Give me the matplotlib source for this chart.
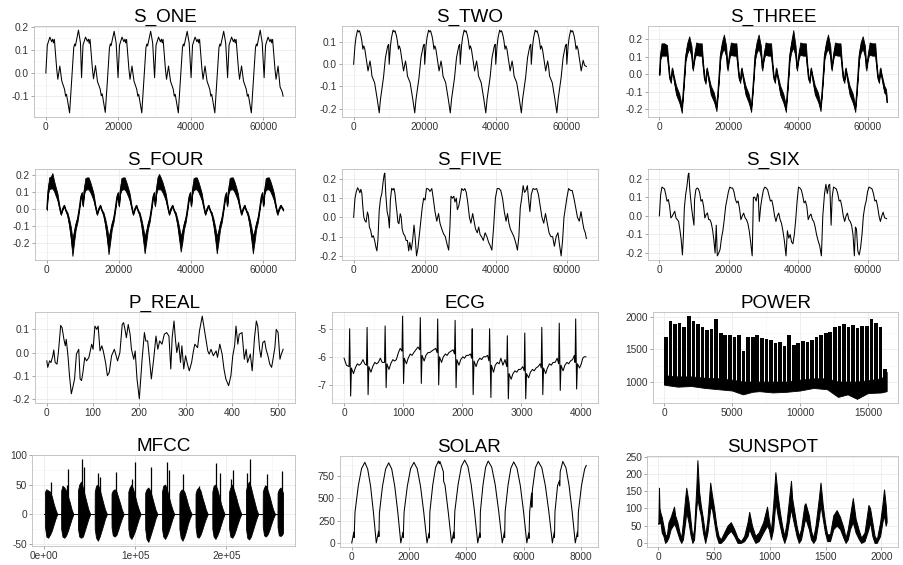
import numpy as np
import matplotlib
matplotlib.use("Agg")
import matplotlib.pyplot as plt
from matplotlib.ticker import MultipleLocator, AutoMinorLocator, FuncFormatter

plt.rcParams['font.family'] = ['Liberation Sans', 'DejaVu Sans']
plt.rcParams['axes.unicode_minus'] = False

## data (x of the S_ series in thousands of samples)

s_one = [
    (0, 0.0), (0.4, 0.12), (1.1, 0.155), (1.6, 0.135), (1.9, 0.146), (2.1, 0.13), (2.35, 0.145), (3.0, 0.016), (3.3, -0.027), (3.85, 0.03), (4.4, -0.035), (5.15, -0.07), (5.45, -0.1), (5.7, -0.092), (6.55, -0.172), (7.1, -0.04), (7.7, 0.11), (7.95, 0.125), (8.15, 0.117), (9.0, 0.185), (9.55, 0.13),
    (9.85, -0.02), (10.25, 0.12), (10.95, 0.155), (11.45, 0.137), (11.75, 0.146), (11.95, 0.128), (12.2, 0.145), (12.85, 0.018), (13.15, -0.025), (13.7, 0.032), (14.25, -0.037), (15.0, -0.07), (15.3, -0.098), (15.55, -0.09), (16.4, -0.17), (16.95, -0.042), (17.55, 0.108), (17.8, 0.126), (18.0, 0.118), (18.85, 0.18), (19.4, 0.13),
    (19.93, -0.02), (20.33, 0.12), (21.03, 0.155), (21.53, 0.135), (21.83, 0.146), (22.03, 0.13), (22.28, 0.145), (22.93, 0.016), (23.23, -0.027), (23.78, 0.03), (24.33, -0.035), (25.08, -0.07), (25.38, -0.1), (25.63, -0.092), (26.48, -0.172), (27.03, -0.04), (27.63, 0.11), (27.88, 0.125), (28.08, 0.117), (28.93, 0.18), (29.48, 0.13),
    (30.01, -0.02), (30.41, 0.12), (31.11, 0.155), (31.61, 0.135), (31.91, 0.146), (32.11, 0.13), (32.36, 0.145), (33.01, 0.016), (33.31, -0.027), (33.86, 0.03), (34.41, -0.035), (35.16, -0.07), (35.46, -0.1), (35.71, -0.092), (36.56, -0.172), (37.11, -0.04), (37.71, 0.11), (37.96, 0.125), (38.16, 0.117), (39.01, 0.18), (39.56, 0.13),
    (40.09, -0.02), (40.49, 0.12), (41.19, 0.155), (41.69, 0.135), (41.99, 0.146), (42.19, 0.13), (42.44, 0.145), (43.09, 0.016), (43.39, -0.027), (43.94, 0.03), (44.49, -0.035), (45.24, -0.07), (45.54, -0.1), (45.79, -0.092), (46.64, -0.172), (47.19, -0.04), (47.79, 0.11), (48.04, 0.125), (48.24, 0.117), (49.09, 0.18), (49.64, 0.13),
    (50.17, -0.02), (50.57, 0.12), (51.27, 0.155), (51.77, 0.135), (52.07, 0.146), (52.27, 0.13), (52.52, 0.145), (53.17, 0.016), (53.47, -0.027), (54.02, 0.03), (54.57, -0.035), (55.32, -0.07), (55.62, -0.1), (55.87, -0.092), (56.72, -0.172), (57.27, -0.04), (57.87, 0.11), (58.12, 0.125), (58.32, 0.117), (59.17, 0.185), (59.72, 0.13),
    (60.25, -0.02), (60.65, 0.12), (61.35, 0.155), (61.85, 0.135), (62.15, 0.146), (62.35, 0.13), (62.6, 0.145), (63.25, 0.016), (63.55, -0.027), (64.1, 0.03), (64.65, -0.06), (65.2, -0.08), (65.5, -0.1),
]

s_two = [
    (0, 0.0), (0.37, 0.083), (0.65, 0.12), (1.1, 0.154), (1.4, 0.146), (1.65, 0.151), (2.05, 0.128), (2.3, 0.106), (2.6, 0.068), (2.85, 0.083), (3.15, 0.068), (4.05, -0.03), (4.6, 0.015), (4.9, -0.015), (5.15, -0.053), (5.9, -0.083), (6.65, -0.158), (7.2, -0.219), (7.55, -0.158), (8.4, -0.06), (8.95, 0.03), (9.6, 0.083), (9.85, 0.09),
    (10.0, 0.0), (10.37, 0.083), (10.65, 0.12), (11.1, 0.154), (11.4, 0.146), (11.65, 0.151), (12.05, 0.128), (12.3, 0.106), (12.6, 0.068), (12.85, 0.083), (13.15, 0.068), (14.05, -0.03), (14.6, 0.015), (14.9, -0.015), (15.15, -0.053), (15.9, -0.083), (16.65, -0.158), (17.2, -0.219), (17.55, -0.158), (18.4, -0.06), (18.95, 0.03), (19.6, 0.083), (19.85, 0.09),
    (20.0, 0.0), (20.37, 0.083), (20.65, 0.12), (21.1, 0.154), (21.4, 0.146), (21.65, 0.151), (22.05, 0.128), (22.3, 0.106), (22.6, 0.068), (22.85, 0.083), (23.15, 0.068), (24.05, -0.03), (24.6, 0.015), (24.9, -0.015), (25.15, -0.053), (25.9, -0.083), (26.65, -0.158), (27.2, -0.219), (27.55, -0.158), (28.4, -0.06), (28.95, 0.03), (29.6, 0.083), (29.85, 0.09),
    (30.0, 0.0), (30.37, 0.083), (30.65, 0.12), (31.1, 0.154), (31.4, 0.146), (31.65, 0.151), (32.05, 0.128), (32.3, 0.106), (32.6, 0.068), (32.85, 0.083), (33.15, 0.068), (34.05, -0.03), (34.6, 0.015), (34.9, -0.015), (35.15, -0.053), (35.9, -0.083), (36.65, -0.158), (37.2, -0.219), (37.55, -0.158), (38.4, -0.06), (38.95, 0.03), (39.6, 0.083), (39.85, 0.09),
    (40.0, 0.0), (40.37, 0.083), (40.65, 0.12), (41.1, 0.154), (41.4, 0.146), (41.65, 0.151), (42.05, 0.128), (42.3, 0.106), (42.6, 0.068), (42.85, 0.083), (43.15, 0.068), (44.05, -0.03), (44.6, 0.015), (44.9, -0.015), (45.15, -0.053), (45.9, -0.083), (46.65, -0.158), (47.2, -0.219), (47.55, -0.158), (48.4, -0.06), (48.95, 0.03), (49.6, 0.083), (49.85, 0.09),
    (50.0, 0.0), (50.37, 0.083), (50.65, 0.12), (51.1, 0.154), (51.4, 0.146), (51.65, 0.151), (52.05, 0.128), (52.3, 0.106), (52.6, 0.068), (52.85, 0.083), (53.15, 0.068), (54.05, -0.03), (54.6, 0.015), (54.9, -0.015), (55.15, -0.053), (55.9, -0.083), (56.65, -0.158), (57.2, -0.219), (57.55, -0.158), (58.4, -0.06), (58.95, 0.03), (59.6, 0.083), (59.85, 0.09),
    (60.0, 0.0), (60.37, 0.083), (60.65, 0.12), (61.1, 0.154), (61.4, 0.146), (61.65, 0.151), (62.05, 0.128), (62.3, 0.106), (62.6, 0.068), (62.85, 0.083), (63.15, 0.068), (64.05, -0.03), (64.6, 0.018), (65.0, -0.005), (65.5, -0.01),
]

# (x, centre, half thickness of the noisy trace)
s_three = [
    (0, 0.0, 0.005), (0.3, 0.1, 0.015), (0.6, 0.14, 0.035), (1.4, 0.14, 0.035), (2.2, 0.135, 0.03), (2.6, 0.05, 0.015), (2.95, -0.02, 0.01), (3.3, -0.04, 0.01), (3.7, 0.03, 0.008), (4.05, -0.01, 0.01), (4.8, -0.09, 0.025), (5.7, -0.135, 0.025), (6.1, -0.165, 0.02), (6.45, -0.205, 0.015), (6.8, -0.12, 0.01), (7.2, -0.01, 0.01), (7.55, 0.095, 0.02), (8.0, 0.145, 0.03), (8.6, 0.18, 0.035), (9.25, 0.13, 0.03), (9.65, 0.03, 0.01),
    (10.0, 0.08, 0.01), (10.3, 0.12, 0.02), (10.6, 0.145, 0.035), (11.4, 0.14, 0.035), (12.2, 0.14, 0.035), (12.6, 0.05, 0.015), (12.95, -0.02, 0.01), (13.3, -0.045, 0.01), (13.7, 0.03, 0.008), (14.05, -0.01, 0.01), (14.8, -0.09, 0.025), (15.7, -0.13, 0.025), (16.1, -0.16, 0.02), (16.45, -0.195, 0.015), (16.8, -0.12, 0.01), (17.2, -0.01, 0.01), (17.55, 0.1, 0.02), (18.0, 0.15, 0.03), (18.6, 0.185, 0.04), (19.25, 0.13, 0.03), (19.65, 0.03, 0.01),
    (20.0, 0.08, 0.01), (20.3, 0.12, 0.02), (20.6, 0.145, 0.035), (21.4, 0.14, 0.035), (22.2, 0.14, 0.035), (22.6, 0.05, 0.015), (22.95, -0.02, 0.01), (23.3, -0.04, 0.01), (23.7, 0.03, 0.008), (24.05, -0.01, 0.01), (24.8, -0.09, 0.025), (25.7, -0.135, 0.025), (26.1, -0.165, 0.02), (26.45, -0.2, 0.015), (26.8, -0.12, 0.01), (27.2, -0.01, 0.01), (27.55, 0.1, 0.02), (28.0, 0.15, 0.03), (28.6, 0.185, 0.04), (29.25, 0.13, 0.03), (29.65, 0.03, 0.01),
    (30.0, 0.08, 0.01), (30.3, 0.12, 0.02), (30.6, 0.145, 0.035), (31.4, 0.14, 0.035), (32.2, 0.14, 0.035), (32.6, 0.05, 0.015), (32.95, -0.02, 0.01), (33.3, -0.04, 0.01), (33.7, 0.03, 0.008), (34.05, -0.01, 0.01), (34.8, -0.09, 0.025), (35.7, -0.135, 0.025), (36.1, -0.165, 0.02), (36.45, -0.2, 0.015), (36.8, -0.12, 0.01), (37.2, -0.01, 0.01), (37.55, 0.1, 0.02), (38.0, 0.155, 0.03), (38.6, 0.2, 0.05), (39.25, 0.13, 0.03), (39.65, 0.03, 0.01),
    (40.0, 0.08, 0.01), (40.3, 0.12, 0.02), (40.6, 0.145, 0.035), (41.4, 0.14, 0.035), (42.2, 0.14, 0.035), (42.6, 0.05, 0.015), (42.95, -0.02, 0.01), (43.3, -0.04, 0.01), (43.7, 0.03, 0.008), (44.05, -0.01, 0.01), (44.8, -0.09, 0.025), (45.7, -0.13, 0.025), (46.1, -0.16, 0.02), (46.45, -0.195, 0.015), (46.8, -0.12, 0.01), (47.2, -0.01, 0.01), (47.55, 0.1, 0.02), (48.0, 0.15, 0.03), (48.6, 0.185, 0.04), (49.25, 0.13, 0.03), (49.65, 0.03, 0.01),
    (50.0, 0.08, 0.01), (50.3, 0.12, 0.02), (50.6, 0.145, 0.035), (51.4, 0.14, 0.035), (52.2, 0.14, 0.035), (52.6, 0.05, 0.015), (52.95, -0.02, 0.01), (53.3, -0.04, 0.01), (53.7, 0.03, 0.008), (54.05, -0.01, 0.01), (54.8, -0.09, 0.025), (55.7, -0.135, 0.025), (56.1, -0.165, 0.02), (56.45, -0.2, 0.015), (56.8, -0.12, 0.01), (57.2, -0.01, 0.01), (57.55, 0.1, 0.02), (58.0, 0.15, 0.03), (58.6, 0.18, 0.035), (59.25, 0.13, 0.03), (59.65, 0.03, 0.01),
    (60.0, 0.08, 0.01), (60.3, 0.12, 0.02), (60.6, 0.145, 0.035), (61.4, 0.14, 0.035), (62.2, 0.14, 0.035), (62.6, 0.05, 0.015), (62.95, -0.02, 0.01), (63.3, -0.04, 0.01), (63.7, 0.03, 0.008), (64.05, -0.01, 0.01), (64.8, -0.085, 0.02), (65.3, -0.1, 0.015), (65.5, -0.14, 0.02),
]

s_four = [
    (0, 0.0, 0.005), (0.3, 0.1, 0.015), (0.65, 0.15, 0.035), (1.1, 0.155, 0.035), (1.55, 0.165, 0.045), (2.0, 0.135, 0.03), (2.5, 0.1, 0.025), (2.95, 0.07, 0.02), (3.4, 0.02, 0.01), (3.9, -0.03, 0.005), (4.35, 0.0, 0.005), (4.8, 0.02, 0.005), (5.25, -0.01, 0.005), (5.7, -0.03, 0.01), (6.2, -0.08, 0.02), (6.65, -0.14, 0.035), (7.1, -0.225, 0.05), (7.55, -0.16, 0.035), (8.0, -0.1, 0.02), (8.5, -0.06, 0.015), (8.95, 0.0, 0.01), (9.4, 0.07, 0.01), (9.7, 0.09, 0.01),
    (10.0, 0.02, 0.005), (10.3, 0.1, 0.015), (10.65, 0.145, 0.035), (11.1, 0.15, 0.035), (11.55, 0.15, 0.035), (12.0, 0.13, 0.03), (12.5, 0.1, 0.025), (12.95, 0.07, 0.02), (13.4, 0.02, 0.01), (13.9, -0.03, 0.005), (14.35, 0.0, 0.005), (14.8, 0.02, 0.005), (15.25, -0.01, 0.005), (15.7, -0.03, 0.01), (16.2, -0.08, 0.02), (16.65, -0.14, 0.035), (17.1, -0.215, 0.05), (17.55, -0.16, 0.035), (18.0, -0.1, 0.02), (18.5, -0.06, 0.015), (18.95, 0.0, 0.01), (19.4, 0.07, 0.01), (19.7, 0.09, 0.01),
    (20.0, 0.02, 0.005), (20.3, 0.1, 0.015), (20.65, 0.145, 0.035), (21.1, 0.15, 0.035), (21.55, 0.15, 0.035), (22.0, 0.13, 0.03), (22.5, 0.1, 0.025), (22.95, 0.07, 0.02), (23.4, 0.02, 0.01), (23.9, -0.03, 0.005), (24.35, 0.0, 0.005), (24.8, 0.02, 0.005), (25.25, -0.01, 0.005), (25.7, -0.03, 0.01), (26.2, -0.08, 0.02), (26.65, -0.14, 0.035), (27.1, -0.21, 0.05), (27.55, -0.16, 0.035), (28.0, -0.1, 0.02), (28.5, -0.06, 0.015), (28.95, 0.0, 0.01), (29.4, 0.07, 0.01), (29.7, 0.09, 0.01),
    (30.0, 0.02, 0.005), (30.3, 0.1, 0.015), (30.65, 0.15, 0.035), (31.1, 0.16, 0.045), (31.55, 0.15, 0.035), (32.0, 0.13, 0.03), (32.5, 0.1, 0.025), (32.95, 0.07, 0.02), (33.4, 0.02, 0.01), (33.9, -0.03, 0.005), (34.35, 0.0, 0.005), (34.8, 0.02, 0.005), (35.25, -0.01, 0.005), (35.7, -0.03, 0.01), (36.2, -0.08, 0.02), (36.65, -0.14, 0.035), (37.1, -0.205, 0.045), (37.55, -0.16, 0.035), (38.0, -0.1, 0.02), (38.5, -0.06, 0.015), (38.95, 0.0, 0.01), (39.4, 0.07, 0.01), (39.7, 0.09, 0.01),
    (40.0, 0.02, 0.005), (40.3, 0.1, 0.015), (40.65, 0.145, 0.035), (41.1, 0.15, 0.035), (41.55, 0.15, 0.035), (42.0, 0.13, 0.03), (42.5, 0.1, 0.025), (42.95, 0.07, 0.02), (43.4, 0.02, 0.01), (43.9, -0.03, 0.005), (44.35, 0.0, 0.005), (44.8, 0.02, 0.005), (45.25, -0.01, 0.005), (45.7, -0.03, 0.01), (46.2, -0.08, 0.02), (46.65, -0.14, 0.035), (47.1, -0.21, 0.05), (47.55, -0.16, 0.035), (48.0, -0.1, 0.02), (48.5, -0.06, 0.015), (48.95, 0.0, 0.01), (49.4, 0.07, 0.01), (49.7, 0.09, 0.01),
    (50.0, 0.02, 0.005), (50.3, 0.1, 0.015), (50.65, 0.145, 0.035), (51.1, 0.15, 0.035), (51.55, 0.15, 0.035), (52.0, 0.13, 0.03), (52.5, 0.1, 0.025), (52.95, 0.07, 0.02), (53.4, 0.02, 0.01), (53.9, -0.03, 0.005), (54.35, 0.0, 0.005), (54.8, 0.02, 0.005), (55.25, -0.01, 0.005), (55.7, -0.03, 0.01), (56.2, -0.08, 0.02), (56.65, -0.14, 0.035), (57.1, -0.21, 0.05), (57.55, -0.16, 0.035), (58.0, -0.1, 0.02), (58.5, -0.06, 0.015), (58.95, 0.0, 0.01), (59.4, 0.07, 0.01), (59.7, 0.09, 0.01),
    (60.0, 0.02, 0.005), (60.3, 0.1, 0.015), (60.65, 0.145, 0.035), (61.1, 0.15, 0.035), (61.55, 0.15, 0.035), (62.0, 0.13, 0.03), (62.5, 0.1, 0.025), (62.95, 0.07, 0.02), (63.4, 0.02, 0.01), (63.9, -0.03, 0.005), (64.35, 0.0, 0.005), (64.8, 0.02, 0.005), (65.5, -0.005, 0.005),
]

s_five = [
    (0, 0.0), (0.37, 0.098), (0.74, 0.133), (1.11, 0.154), (1.48, 0.142), (1.75, 0.128), (2.03, 0.146), (2.31, 0.125), (2.59, 0.054), (2.86, 0.002), (3.14, -0.016), (3.51, -0.025), (3.88, 0.028), (4.15, 0.01), (4.43, -0.051), (4.8, -0.068), (5.17, -0.104), (5.54, -0.095), (5.91, -0.12), (6.28, -0.156), (6.55, -0.174), (6.83, -0.12), (7.2, 0.037), (7.57, 0.098), (7.94, 0.125), (8.31, 0.186), (8.58, 0.221), (8.77, 0.23), (9.05, 0.12), (9.42, 0.03), (9.78, 0.0), (10.06, -0.055),
    (10.34, 0.09), (10.71, 0.151), (11.08, 0.142), (11.35, 0.151), (11.63, 0.125), (11.91, 0.072), (12.18, 0.028), (12.46, -0.025), (12.74, -0.033), (13.11, 0.019), (13.38, 0.002), (13.66, -0.06), (14.03, -0.086), (14.4, -0.095), (14.77, -0.12), (15.14, -0.12), (15.5, -0.174), (15.8, -0.13), (16.2, -0.17), (16.6, -0.12), (17.0, -0.04), (17.3, -0.1), (17.7, -0.2), (18.1, -0.16), (18.5, -0.09), (18.9, -0.02), (19.3, 0.05), (19.7, 0.1), (20.1, 0.09),
    (20.5, 0.15), (21.0, 0.148), (21.5, 0.135), (22.0, 0.15), (22.4, 0.1), (22.9, 0.03), (23.4, -0.02), (23.9, 0.02), (24.3, -0.03), (24.8, -0.06), (25.3, -0.085), (25.8, -0.1), (26.3, -0.14), (26.75, -0.17), (27.1, -0.05), (27.4, 0.11), (27.8, 0.1), (28.2, 0.11), (28.5, 0.08), (28.9, 0.1), (29.2, 0.04), (29.6, 0.06), (30.0, 0.1),
    (30.4, 0.15), (30.9, 0.14), (31.3, 0.15), (31.7, 0.13), (32.1, 0.08), (32.6, 0.0), (33.0, -0.03), (33.5, 0.02), (33.9, -0.02), (34.3, -0.06), (34.8, -0.08), (35.2, -0.05), (35.6, -0.09), (36.0, -0.1), (36.5, -0.12), (37.0, -0.08), (37.5, -0.1), (38.0, -0.13), (38.5, -0.15), (38.9, -0.17), (39.4, -0.05), (39.9, 0.1),
    (40.4, 0.15), (40.9, 0.15), (41.4, 0.14), (41.9, 0.1), (42.4, 0.03), (42.9, -0.02), (43.3, 0.02), (43.7, -0.03), (44.1, -0.06), (44.6, -0.08), (45.1, -0.1), (45.6, -0.13), (46.1, -0.17), (46.5, -0.1), (46.9, 0.05), (47.3, 0.1), (47.7, 0.165), (48.1, 0.13), (48.5, 0.14), (48.9, 0.165), (49.2, 0.1), (49.6, 0.03), (50.0, 0.12),
    (50.5, 0.15), (51.0, 0.145), (51.5, 0.15), (52.0, 0.12), (52.5, 0.06), (53.0, 0.0), (53.5, -0.03), (54.0, 0.02), (54.5, -0.03), (55.0, -0.08), (55.5, -0.1), (56.0, -0.1), (56.5, -0.15), (57.0, -0.1), (57.5, -0.08), (58.0, -0.15), (58.4, -0.2), (58.8, -0.12), (59.2, 0.0), (59.6, 0.05), (60.0, 0.1),
    (60.5, 0.15), (61.0, 0.14), (61.5, 0.14), (62.0, 0.1), (62.5, 0.05), (63.0, 0.0), (63.5, -0.02), (64.0, 0.03), (64.4, -0.02), (64.8, -0.06), (65.2, -0.08), (65.5, -0.11),
]

s_six = [
    (0, 0.0), (0.37, 0.114), (0.74, 0.155), (1.11, 0.15), (1.48, 0.145), (1.85, 0.114), (2.22, 0.079), (2.59, 0.088), (2.95, 0.052), (3.32, -0.011), (3.69, -0.002), (4.06, 0.012), (4.43, 0.025), (4.8, -0.011), (5.17, -0.02), (5.54, -0.029), (5.91, -0.073), (6.28, -0.127), (6.65, -0.21), (6.92, -0.109), (7.2, 0.043), (7.57, 0.114), (7.94, 0.159), (8.31, 0.221), (8.49, 0.23), (8.77, 0.141), (9.23, 0.052), (9.6, -0.002), (9.97, -0.05),
    (10.15, 0.088), (10.52, 0.141), (10.89, 0.15), (11.26, 0.145), (11.63, 0.123), (12.0, 0.079), (12.37, 0.088), (12.74, 0.052), (13.11, -0.011), (13.48, 0.007), (13.85, 0.016), (14.22, -0.02), (14.58, -0.02), (14.95, -0.038), (15.32, -0.073), (15.69, -0.127), (16.06, -0.2), (16.4, -0.05), (16.7, -0.215), (17.1, -0.2), (17.5, -0.18), (17.9, -0.12), (18.3, -0.08), (18.7, -0.02), (19.1, 0.05), (19.5, 0.09), (19.9, 0.13), (20.3, 0.155),
    (20.7, 0.15), (21.1, 0.15), (21.5, 0.13), (21.9, 0.09), (22.3, 0.07), (22.7, 0.08), (23.1, 0.04), (23.5, -0.02), (23.9, 0.0), (24.3, 0.015), (24.7, -0.01), (25.1, -0.02), (25.5, -0.04), (25.9, -0.08), (26.3, -0.14), (26.75, -0.215), (27.1, 0.1), (27.5, 0.1), (27.9, 0.08), (28.3, 0.12), (28.5, 0.11), (28.8, -0.03), (29.2, 0.05), (29.6, 0.1), (30.0, 0.14), (30.4, 0.155),
    (30.8, 0.15), (31.2, 0.14), (31.6, 0.11), (32.0, 0.08), (32.4, 0.085), (32.8, 0.05), (33.2, 0.0), (33.6, -0.03), (34.0, 0.0), (34.4, 0.015), (34.8, -0.02), (35.2, -0.04), (35.6, -0.08), (36.0, -0.13), (36.5, -0.215), (36.9, -0.08), (37.3, -0.12), (37.7, -0.1), (38.1, -0.14), (38.5, -0.15), (38.9, -0.1), (39.3, -0.02), (39.7, 0.08), (40.1, 0.155),
    (40.5, 0.15), (40.9, 0.14), (41.3, 0.11), (41.7, 0.07), (42.1, 0.08), (42.5, 0.05), (42.9, -0.02), (43.3, 0.0), (43.7, 0.01), (44.1, -0.02), (44.5, -0.03), (44.9, -0.06), (45.3, -0.1), (45.7, -0.13), (46.2, -0.16), (46.7, -0.215), (47.1, 0.0), (47.6, 0.12), (48.0, 0.17), (48.4, 0.12), (48.8, 0.165), (49.1, 0.17), (49.5, -0.05), (49.8, 0.1), (50.2, 0.155),
    (50.6, 0.15), (51.0, 0.145), (51.4, 0.12), (51.8, 0.08), (52.2, 0.085), (52.6, 0.05), (53.0, 0.0), (53.4, -0.03), (53.8, 0.0), (54.2, 0.015), (54.6, -0.02), (55.0, -0.03), (55.4, -0.05), (55.8, -0.1), (56.2, -0.215), (56.5, -0.06), (56.8, -0.07), (57.2, -0.19), (57.6, -0.21), (58.0, -0.17), (58.4, -0.1), (58.8, 0.0), (59.2, 0.05), (59.6, 0.08), (60.0, 0.13), (60.4, 0.155),
    (60.9, 0.15), (61.3, 0.145), (61.7, 0.12), (62.1, 0.08), (62.5, 0.085), (62.9, 0.05), (63.3, 0.0), (63.7, -0.03), (64.1, 0.0), (64.5, 0.02), (64.9, -0.01), (65.5, -0.015),
]

p_real = [
    (0, -0.036), (2, -0.064), (6, -0.036), (9, -0.043), (13, -0.014), (15, 0.011), (18, -0.043), (22, -0.05), (25, 0.0), (30, 0.117), (33, 0.107), (37, 0.057), (40, 0.029), (42, 0.057), (46, -0.02), (49, -0.1),
    (53, -0.178), (57, -0.143), (60, -0.114), (64, -0.007), (69, 0.014), (72, -0.114), (75, -0.121), (78, -0.086), (82, -0.021), (86, -0.036), (91, -0.021), (97, 0.036), (100, 0.014), (104, 0.114), (108, 0.1),
    (111, 0.114), (115, 0.007), (119, 0.029), (122, 0.007), (127, -0.043), (131, -0.1), (135, -0.086), (140, -0.014), (146, 0.014), (149, -0.007), (153, -0.036), (158, 0.0), (163, 0.121), (166, 0.129),
    (169, 0.1), (172, 0.064), (176, 0.121), (180, 0.079), (183, 0.014), (188, -0.029), (191, 0.007), (195, -0.114), (200, -0.2), (206, -0.029), (211, 0.086), (214, 0.05), (218, 0.05), (222, -0.029),
    (226, -0.114), (231, -0.029), (236, 0.071), (240, 0.014), (244, 0.05), (249, 0.036), (254, 0.079), (259, 0.086), (264, 0.071), (268, -0.071), (271, 0.064), (275, 0.136), (278, 0.057), (281, 0.0),
    (285, 0.043), (289, -0.043), (292, 0.029), (296, -0.071), (300, -0.014), (304, -0.05), (308, -0.079), (313, -0.043), (317, 0.007), (320, 0.036), (326, 0.021), (330, 0.093), (336, 0.157), (340, 0.107),
    (344, 0.057), (348, 0.007), (351, -0.007), (355, 0.014), (360, -0.014), (366, 0.007), (369, -0.021), (374, 0.036), (379, -0.007), (383, -0.071), (387, -0.114), (393, -0.143), (398, -0.1), (402, -0.014),
    (406, 0.029), (409, 0.114), (413, 0.036), (416, 0.079), (422, 0.086), (427, -0.029), (431, 0.014), (434, -0.043), (440, -0.007), (444, -0.079), (449, 0.064), (453, 0.136), (456, 0.114), (460, 0.014),
    (463, -0.021), (467, 0.043), (471, 0.05), (474, 0.014), (478, -0.014), (482, -0.05), (486, -0.064), (489, -0.029), (493, 0.021), (496, 0.1), (500, 0.086), (504, -0.029), (507, -0.007), (511, 0.014),
]

ecg = [
    (0, -6.05), (40, -6.3), (84, -6.35), (94, -5.0), (111, -7.4), (124, -6.4), (159, -6.6), (189, -6.4), (224, -6.25), (254, -6.3), (284, -6.25), (319, -6.1), (349, -6.25),
    (379, -6.3), (389, -4.95), (406, -7.35), (419, -6.35), (454, -6.55), (484, -6.35), (519, -6.2), (549, -6.25), (579, -6.2), (614, -6.05), (644, -6.2),
    (684, -6.2), (694, -4.9), (711, -7.1), (724, -6.25), (759, -6.45), (789, -6.25), (824, -6.1), (854, -6.15), (884, -6.1), (919, -5.85), (949, -5.7), (979, -5.8),
    (989, -4.55), (1006, -6.95), (1019, -6.05), (1054, -6.25), (1084, -6.05), (1119, -5.9), (1149, -5.95), (1179, -5.85), (1214, -5.75), (1249, -5.65), (1279, -5.75),
    (1289, -4.6), (1306, -6.95), (1319, -5.95), (1354, -6.15), (1384, -5.95), (1419, -5.85), (1449, -5.85), (1479, -5.8), (1514, -5.75), (1549, -5.7), (1573, -5.85),
    (1583, -4.65), (1600, -7.0), (1613, -6.0), (1648, -6.2), (1678, -6.0), (1713, -5.9), (1743, -5.95), (1773, -5.85), (1808, -5.8), (1843, -5.75), (1868, -5.9),
    (1878, -4.7), (1894, -7.1), (1908, -6.1), (1943, -6.3), (1973, -6.1), (2008, -6.0), (2038, -6.05), (2068, -5.95), (2103, -5.95), (2138, -5.9), (2157, -6.05),
    (2167, -5.0), (2183, -7.35), (2197, -6.15), (2232, -6.35), (2262, -6.15), (2297, -6.05), (2327, -6.1), (2357, -6.0), (2392, -6.0), (2427, -5.95), (2451, -6.15),
    (2461, -5.0), (2483, -7.45), (2492, -6.3), (2527, -6.55), (2557, -6.3), (2592, -6.2), (2622, -6.25), (2652, -6.05), (2687, -6.3), (2722, -6.1), (2751, -6.35),
    (2761, -5.25), (2778, -7.5), (2791, -6.6), (2826, -6.8), (2856, -6.6), (2891, -6.5), (2921, -6.55), (2951, -6.45), (2986, -6.45), (3021, -6.35), (3046, -6.5),
    (3056, -5.15), (3072, -7.5), (3086, -6.6), (3121, -6.75), (3151, -6.55), (3186, -6.45), (3216, -6.5), (3246, -6.4), (3281, -6.35), (3316, -6.25), (3334, -6.4),
    (3344, -4.95), (3361, -7.35), (3374, -6.4), (3409, -6.6), (3439, -6.4), (3474, -6.25), (3504, -6.3), (3534, -6.2), (3569, -6.2), (3604, -6.05), (3629, -6.25),
    (3639, -4.8), (3656, -7.2), (3669, -6.3), (3704, -6.5), (3734, -6.3), (3769, -6.2), (3799, -6.25), (3829, -6.15), (3864, -6.1), (3894, -5.95), (3907, -6.2),
    (3917, -4.65), (3933, -7.15), (3947, -6.25), (3982, -6.4), (4012, -6.25), (4037, -6.05), (4062, -6.0), (4090, -6.0),
]

# POWER: weekday peak level of each week (weeks of 336 samples) and the low band
power_week_len = 336
power_peak = [1700, 1950, 1900, 1920, 1850, 2020, 1950, 1900, 1850, 1800, 1820, 1970, 1750, 1720, 1730, 1700,
              1720, 1480, 1690, 1700, 1720, 1680, 1660, 1650, 1600, 1620, 1560, 1720, 1570, 1600, 1640, 1620,
              1650, 1700, 1730, 1760, 1780, 1850, 1870, 1900, 1850, 1880, 1830, 1870, 1860, 1970, 1920, 1850, 1200]
power_band = [(0, 950, 1100), (1000, 920, 1080), (2000, 930, 1080), (3000, 900, 1060), (4000, 880, 1050), (5000, 860, 1030),
              (5800, 800, 1000), (6500, 840, 1000), (7000, 850, 1000), (8000, 830, 1000), (9000, 840, 1000), (10000, 860, 1030),
              (11000, 900, 1050), (12000, 880, 1050), (12800, 760, 1000), (13500, 800, 1000), (14200, 730, 1000), (15000, 820, 1020),
              (16000, 830, 1050), (16384, 850, 1150)]

# MFCC: envelope of each burst (x in thousands), plus the tall single spikes
mfcc_env = [
    (0, 0, 0), (1.1, 0, 0), (1.2, 38, -22), (2.6, 42, -38), (4.6, 40, -40), (6.6, 38, -35), (8.6, 30, -28), (10.6, 18, -18), (12.6, 8, -8), (14.6, 0, 0),
    (18.8, 0, 0), (18.9, 40, -25), (20.3, 48, -38), (22.3, 45, -40), (24.3, 40, -36), (26.3, 30, -28), (28.3, 20, -18), (30.3, 8, -8), (32.3, 0, 0),
    (37.2, 0, 0), (37.3, 40, -25), (38.7, 50, -38), (40.7, 55, -40), (42.7, 45, -38), (44.7, 32, -28), (46.7, 20, -18), (48.7, 8, -8), (50.7, 0, 0),
    (55.6, 0, 0), (55.7, 38, -25), (57.1, 48, -40), (59.1, 50, -45), (61.1, 42, -38), (63.1, 30, -28), (65.1, 18, -18), (67.1, 7, -7), (69.1, 0, 0),
    (74.0, 0, 0), (74.1, 35, -22), (75.5, 40, -36), (77.5, 42, -38), (79.5, 38, -35), (81.5, 28, -26), (83.5, 18, -16), (85.5, 7, -7), (87.5, 0, 0),
    (92.4, 0, 0), (92.5, 38, -25), (93.9, 45, -38), (95.9, 50, -42), (97.9, 42, -36), (99.9, 30, -28), (101.9, 18, -18), (103.9, 8, -8), (105.9, 0, 0),
    (110.9, 0, 0), (111.0, 36, -25), (112.4, 42, -42), (114.4, 45, -47), (116.4, 40, -38), (118.4, 30, -28), (120.4, 18, -18), (122.4, 7, -7), (124.4, 0, 0),
    (129.3, 0, 0), (129.4, 38, -25), (130.8, 48, -38), (132.8, 50, -42), (134.8, 42, -36), (136.8, 30, -28), (138.8, 18, -18), (140.8, 8, -8), (142.8, 0, 0),
    (148.4, 0, 0), (148.5, 35, -25), (149.9, 40, -40), (151.9, 42, -45), (153.9, 38, -38), (155.9, 28, -28), (157.9, 16, -16), (159.9, 7, -7), (161.9, 0, 0),
    (166.1, 0, 0), (166.2, 35, -22), (167.6, 42, -38), (169.6, 45, -40), (171.6, 40, -35), (173.6, 28, -26), (175.6, 18, -16), (177.6, 7, -7), (179.6, 0, 0),
    (184.5, 0, 0), (184.6, 38, -25), (186.0, 48, -38), (188.0, 50, -42), (190.0, 42, -36), (192.0, 30, -28), (194.0, 18, -18), (196.0, 8, -8), (198.0, 0, 0),
    (202.9, 0, 0), (203.0, 38, -25), (204.4, 45, -38), (206.4, 50, -40), (208.4, 40, -35), (210.4, 30, -26), (212.4, 18, -16), (214.4, 8, -7), (216.4, 0, 0),
    (221.4, 0, 0), (221.5, 40, -25), (222.9, 50, -40), (224.9, 55, -43), (226.9, 45, -38), (228.9, 32, -28), (230.9, 20, -18), (232.9, 8, -8), (234.9, 0, 0),
    (239.8, 0, 0), (239.9, 38, -22), (241.3, 45, -36), (243.3, 48, -38), (245.3, 40, -34), (247.3, 30, -26), (249.3, 18, -16), (251.3, 7, -7), (253.3, 0, 0),
    (256.0, 0, 0), (256.1, 36, -22), (257.5, 42, -36), (259.5, 45, -37), (261.5, 38, -34), (262.1, 35, -30),
]
mfcc_spikes = [(7.4, 55), (25.8, 50), (26.9, 77), (41.6, 93), (44.2, 80), (58.9, 70), (61.9, 62), (79.2, 72), (96.9, 60), (99.8, 88),
               (117.1, 80), (134.4, 88), (137.4, 75), (152.9, 68), (170.5, 48), (189.0, 87), (192.6, 70), (205.5, 60), (207.4, 75),
               (222.1, 70), (225.8, 93), (242.4, 50), (244.2, 68), (260.8, 73)]

solar = [
    (0, 0), (75, 120), (85, 60), (114, 345), (229, 640), (343, 835), (457, 905), (557, 830), (657, 640), (757, 345), (857, 0),
    (940, 130), (950, 70), (966, 335), (1074, 635), (1183, 830), (1291, 900), (1397, 830), (1503, 635), (1608, 345), (1714, 0),
    (1790, 120), (1800, 60), (1828, 345), (1943, 640), (2057, 835), (2171, 905), (2286, 835), (2400, 640), (2515, 345), (2629, 0),
    (2700, 110), (2710, 55), (2729, 350), (2829, 650), (2929, 850), (3000, 900), (3029, 920), (3060, 890), (3080, 915), (3150, 850), (3200, 800), (3210, 690), (3257, 650), (3371, 345), (3486, 0),
    (3560, 120), (3570, 50), (3600, 355), (3714, 655), (3829, 860), (3943, 930), (4057, 860), (4171, 655), (4286, 355), (4400, 0),
    (4470, 110), (4480, 60), (4492, 350), (4583, 650), (4675, 850), (4766, 920), (4889, 850), (5012, 650), (5134, 350), (5257, 0),
    (5330, 120), (5340, 60), (5357, 350), (5457, 645), (5557, 840), (5657, 910), (5771, 840), (5886, 645), (6000, 350), (6114, 0),
    (6180, 110), (6190, 50), (6214, 350), (6280, 560), (6290, 400), (6310, 600), (6414, 845), (6514, 915), (6637, 845), (6760, 645), (6883, 350), (7006, 0),
    (7070, 120), (7080, 60), (7097, 350), (7188, 645), (7257, 700), (7262, 640), (7280, 800), (7371, 915), (7480, 845), (7589, 645), (7697, 350), (7806, 0),
    (7880, 120), (7890, 70), (7915, 350), (8024, 645), (8133, 830), (8190, 870),
]

# SUNSPOT: (month, low edge, high edge) of the jagged monthly trace
sunspot = [
    (0, 55, 65), (5, 60, 160), (10, 60, 100), (20, 55, 85), (30, 30, 75), (45, 20, 50), (60, 0, 25), (75, 5, 20), (90, 15, 60),
    (110, 40, 75), (130, 50, 95), (140, 55, 105), (150, 50, 80), (170, 30, 60), (190, 10, 30), (205, 0, 15), (220, 10, 60),
    (240, 60, 130), (250, 90, 160), (270, 60, 120), (290, 20, 60), (305, 0, 15), (320, 10, 40), (340, 100, 160), (350, 130, 240),
    (365, 100, 150), (380, 80, 110), (400, 30, 70), (420, 0, 20), (440, 30, 70), (465, 100, 175), (480, 100, 140), (500, 60, 100),
    (520, 20, 50), (540, 0, 20), (560, 0, 10), (590, 10, 30), (620, 25, 50), (650, 35, 60), (680, 20, 40), (710, 0, 15), (740, 0, 5),
    (770, 5, 20), (800, 20, 60), (815, 40, 90), (840, 20, 50), (870, 0, 20), (900, 5, 30), (940, 30, 60), (975, 50, 105), (990, 40, 70),
    (1010, 10, 35), (1030, 40, 110), (1050, 120, 205), (1070, 80, 140), (1090, 50, 90), (1110, 20, 50), (1130, 0, 20), (1150, 20, 60),
    (1190, 100, 180), (1200, 80, 130), (1220, 50, 90), (1240, 20, 50), (1260, 0, 20), (1280, 10, 40), (1310, 60, 110), (1320, 70, 115),
    (1350, 40, 80), (1370, 10, 35), (1390, 0, 15), (1410, 10, 50), (1440, 70, 130), (1455, 110, 175), (1475, 70, 110), (1495, 30, 60),
    (1515, 5, 25), (1540, 5, 25), (1570, 40, 80), (1600, 50, 95), (1630, 40, 75), (1660, 15, 45), (1680, 0, 15), (1700, 10, 40),
    (1720, 40, 80), (1745, 60, 130), (1770, 30, 70), (1800, 10, 35), (1820, 0, 15), (1850, 5, 30), (1885, 40, 110), (1900, 60, 100),
    (1920, 20, 60), (1940, 0, 20), (1960, 0, 10), (1990, 20, 60), (2010, 60, 110), (2025, 80, 155), (2040, 50, 110), (2048, 60, 70),
]

## figure

W, H = 904, 565
fig = plt.figure(figsize=(W / 100, H / 100), dpi=100)


def fmt1(v, p):
    return f"{round(v, 6) + 0.0:.1f}"


def fmt0(v, p):
    return f"{round(v, 6) + 0.0:.0f}"


def fmte(v, p):
    return f"{v:.0e}"


def panel(rect, title, xstep, ystep, yfmt, xfmt=fmt0):
    l, t, r, b = rect
    ax = fig.add_axes([l / W, 1 - b / H, (r - l) / W, (b - t) / H])
    ax.set_title(title, fontsize=13.6, pad=2)
    ax.xaxis.set_major_locator(MultipleLocator(xstep))
    ax.yaxis.set_major_locator(MultipleLocator(ystep))
    ax.xaxis.set_minor_locator(AutoMinorLocator(2))
    ax.yaxis.set_minor_locator(AutoMinorLocator(2))
    ax.xaxis.set_major_formatter(FuncFormatter(xfmt))
    ax.yaxis.set_major_formatter(FuncFormatter(yfmt))
    ax.grid(which='major', color='#EBEBEB', lw=0.6)
    ax.grid(which='minor', color='#F6F6F6', lw=0.5)
    ax.set_axisbelow(True)
    ax.tick_params(which='minor', length=0)
    ax.tick_params(which='major', length=2.2, width=0.5, color='#808080',
                   labelsize=7.3, labelcolor='#333333', pad=1.5)
    for s in ax.spines.values():
        s.set_color('#BDBDBD')
        s.set_linewidth(0.6)
    return ax


LW = 0.75

# row 1
ax = panel((34, 26, 295, 117), "S_ONE", 20000, 0.1, fmt1)
x, y = zip(*s_one)
ax.plot(np.array(x) * 1000, y, color='black', lw=LW)

ax = panel((342, 26, 598, 117), "S_TWO", 20000, 0.1, fmt1)
x, y = zip(*s_two)
ax.plot(np.array(x) * 1000, y, color='black', lw=LW)

ax = panel((648, 26, 898, 117), "S_THREE", 20000, 0.1, fmt1)
x, c, w = map(np.array, zip(*s_three))
ax.fill_between(x * 1000, c - w, c + w, color='black', lw=0.6)
ax.plot(x * 1000, c, color='black', lw=LW)

# row 2
ax = panel((35, 169, 295, 260), "S_FOUR", 20000, 0.1, fmt1)
x, c, w = map(np.array, zip(*s_four))
ax.fill_between(x * 1000, c - w, c + w, color='black', lw=0.6)
ax.plot(x * 1000, c, color='black', lw=LW)

ax = panel((342, 169, 598, 260), "S_FIVE", 20000, 0.1, fmt1)
x, y = zip(*s_five)
ax.plot(np.array(x) * 1000, y, color='black', lw=LW)

ax = panel((648, 169, 898, 260), "S_SIX", 20000, 0.1, fmt1)
x, y = zip(*s_six)
ax.plot(np.array(x) * 1000, y, color='black', lw=LW)

# row 3
ax = panel((35, 312, 295, 403), "P_REAL", 100, 0.1, fmt1)
x, y = zip(*p_real)
ax.plot(x, y, color='black', lw=LW)

ax = panel((332, 312, 598, 403), "ECG", 1000, 1, fmt0)
x, y = zip(*ecg)
ax.plot(x, y, color='black', lw=LW)

ax = panel((653, 312, 898, 403), "POWER", 5000, 500, fmt0)
bx, blo, bhi = zip(*power_band)
ax.fill_between(bx, blo, bhi, color='black', lw=0.6)
week_x = np.arange(len(power_peak)) * power_week_len
ax.bar(week_x, np.array(power_peak) - 950, bottom=950, width=power_week_len * 0.8,
       align='edge', color='black', lw=0)

# row 4
ax = panel((32, 455, 295, 546), "MFCC", 100000, 50, fmt0, xfmt=fmte)
mx, mhi, mlo = map(np.array, zip(*mfcc_env))
ax.fill_between(mx * 1000, mlo, mhi, color='black', lw=0.6)
ax.plot(mx * 1000, np.zeros_like(mx), color='black', lw=LW)
sx, stop = map(np.array, zip(*mfcc_spikes))
ax.vlines(sx * 1000, 0, stop, color='black', lw=0.9)

ax = panel((340, 456, 598, 547), "SOLAR", 2000, 250, fmt0)
x, y = zip(*solar)
ax.plot(x, y, color='black', lw=LW)

ax = panel((647, 456, 898, 547), "SUNSPOT", 500, 50, fmt0)
x, lo, hi = zip(*sunspot)
ax.fill_between(x, lo, hi, color='black', lw=0.7)

fig.savefig("out.png", dpi=100)
